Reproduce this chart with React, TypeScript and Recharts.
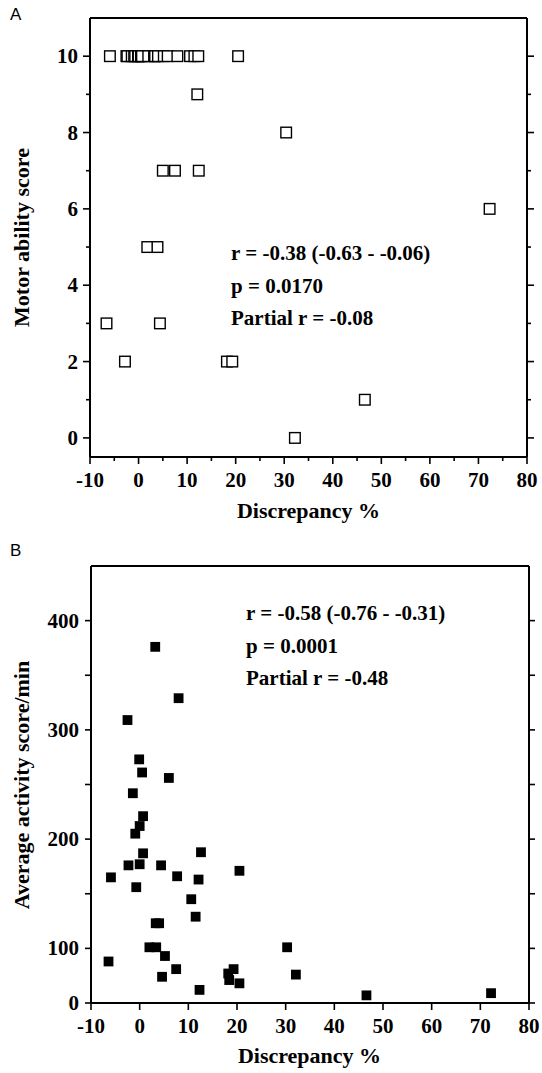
import React from 'react';
import { ScatterChart, Scatter, XAxis, YAxis } from 'recharts';

// Panel A: discrepancy % vs motor ability score
const discrepancyA = [
  -5.9, -2.5, -2.3, -1.4, -0.9, -0.7, -0.1, 0.0, 0.0, 0.5, 0.7, 0.7, 2.0, 3.2, 3.3, 3.4, 4.0, 5.2, 6.0, 8.0, 10.6, 11.5, 12.3, 20.5,
  12.1, 30.4, 5.0, 7.5, 12.4, 72.3, 1.8, 3.9, -6.6, 4.4, -2.8, 18.2, 19.3, 46.6, 32.2,
];
const motorScore = [
  10, 10, 10, 10, 10, 10, 10, 10, 10, 10, 10, 10, 10, 10, 10, 10, 10, 10, 10, 10, 10, 10, 10, 10,
  9, 8, 7, 7, 7, 6, 5, 5, 3, 3, 2, 2, 2, 1, 0,
];

// Panel B: discrepancy % vs average activity score/min (axis bottom labelled "0")
const discrepancyB = [
  3.2, 8.0, -2.5, -0.1, 0.5, 6.0, -1.4, 0.7, 0.0, -0.9, 0.7, 12.6, -2.3, 0.0, 4.4, 20.5, -5.9, 7.7, 12.1, -0.7,
  10.6, 11.5, 3.3, 4.0, 2.0, 3.4, 30.3, 5.2, -6.4, 7.5, 19.3, 18.2, 18.4, 32.1, 4.6, 20.5, 12.3, 46.6, 72.2,
];
const activityScore = [
  376, 329, 309, 273, 261, 256, 242, 221, 212, 205, 187, 188, 176, 177, 176, 171, 165, 166, 163, 156,
  145, 129, 123, 123, 101, 101, 101, 93, 88, 81, 81, 77, 71, 76, 74, 68, 62, 57, 59,
];

const xTicksA = [-10, -5, 0, 5, 10, 15, 20, 25, 30, 35, 40, 45, 50, 55, 60, 65, 70, 75, 80];
const yTicksA = [0, 1, 2, 3, 4, 5, 6, 7, 8, 9, 10];
const xTicksB = [-10, 0, 10, 20, 30, 40, 50, 60, 70, 80];
const yTicksB = [50, 100, 150, 200, 250, 300, 350, 400];
const yLabelsB: Record<number, string> = { 50: '0', 100: '100', 200: '200', 300: '300', 400: '400' };

const statsA = ['r = -0.38 (-0.63 - -0.06)', 'p = 0.0170', 'Partial r = -0.08'];
const statsB = ['r = -0.58 (-0.76 - -0.31)', 'p = 0.0001', 'Partial r = -0.48'];

const dataA = discrepancyA.map((x, i) => ({ x, y: motorScore[i] }));
const dataB = discrepancyB.map((x, i) => ({ x, y: activityScore[i] }));

const SERIF = '"Liberation Serif", "Times New Roman", serif';
const SANS = '"Liberation Sans", Arial, sans-serif';
const FS = 21;

const axisStyle = { stroke: '#000', strokeWidth: 2 };

type Side = 'bottom' | 'top' | 'left' | 'right';

function makeTick(
  side: Side,
  isMajor: (v: number) => boolean,
  label: ((v: number) => string | null) | null,
  majorLen: number,
  minorLen: number
) {
  return (props: any) => {
    const { x, y, payload } = props;
    const v = payload.value as number;
    const major = isMajor(v);
    const len = major ? majorLen : minorLen;
    const txt = label ? label(v) : null;
    let line: React.ReactNode = null;
    let text: React.ReactNode = null;
    const textStyle = { fontFamily: SERIF, fontWeight: 700, fontSize: FS, fill: '#000' };
    if (side === 'bottom') {
      line = <line x1={x} y1={y} x2={x} y2={y + len} stroke="#000" strokeWidth={1.6} />;
      if (txt) text = <text x={x} y={y + 30} textAnchor="middle" style={textStyle}>{txt}</text>;
    } else if (side === 'top') {
      line = <line x1={x} y1={y} x2={x} y2={y - len} stroke="#000" strokeWidth={1.6} />;
    } else if (side === 'left') {
      line = <line x1={x} y1={y} x2={x - len} y2={y} stroke="#000" strokeWidth={1.6} />;
      if (txt) text = <text x={x - 12} y={y + 7} textAnchor="end" style={textStyle}>{txt}</text>;
    } else {
      line = <line x1={x} y1={y} x2={x + len} y2={y} stroke="#000" strokeWidth={1.6} />;
    }
    return (
      <g>
        {line}
        {text}
      </g>
    );
  };
}

const even10 = (v: number) => v % 10 === 0;
const evenInt = (v: number) => v % 2 === 0;
const always = () => true;

const HollowSquare = (p: any) => (
  <rect x={p.cx - 5.3} y={p.cy - 5.3} width={10.6} height={10.6} fill="#fff" stroke="#000" strokeWidth={1.4} />
);
const FilledSquare = (p: any) => (
  <rect x={p.cx - 4.9} y={p.cy - 4.9} width={9.8} height={9.8} fill="#000" stroke="none" />
);

const textBold = { fontFamily: SERIF, fontWeight: 700, fontSize: FS, fill: '#000' } as const;
const titleBold = { fontFamily: SERIF, fontWeight: 700, fontSize: 22, fill: '#000' } as const;

const common = {
  type: 'number' as const,
  interval: 0 as const,
  tickSize: 0,
  tickMargin: 0,
  tickLine: false,
  axisLine: axisStyle,
  allowDataOverflow: true,
};

export default function App() {
  return (
    <div style={{ position: 'absolute', left: 0, top: 0, width: 542, height: 1073, background: '#fff' }}>
      <div style={{ position: 'absolute', left: 0, top: 0 }}>
        <ScatterChart width={542} height={535} margin={{ top: 17, right: 14, bottom: 77, left: 89 }}>
          <XAxis
            {...common}
            xAxisId="b"
            dataKey="x"
            domain={[-10, 80]}
            ticks={xTicksA}
            height={1}
            tick={makeTick('bottom', even10, (v) => (v % 10 === 0 ? String(v) : null), 7, 4)}
          />
          <XAxis
            {...common}
            xAxisId="t"
            orientation="top"
            domain={[-10, 80]}
            ticks={xTicksA}
            height={1}
            tick={makeTick('top', even10, null, 7, 4)}
          />
          <YAxis
            {...common}
            yAxisId="l"
            dataKey="y"
            domain={[-0.5, 11]}
            ticks={yTicksA}
            width={1}
            tick={makeTick('left', evenInt, (v) => (v % 2 === 0 ? String(v) : null), 7, 4)}
          />
          <YAxis
            {...common}
            yAxisId="r"
            orientation="right"
            domain={[-0.5, 11]}
            ticks={yTicksA}
            width={1}
            tick={makeTick('right', evenInt, null, 7, 4)}
          />
          <Scatter data={dataA} xAxisId="b" yAxisId="l" shape={HollowSquare} isAnimationActive={false} />
          <text x={10} y={20} style={{ fontFamily: SANS, fontSize: 17, fill: '#000' }}>A</text>
          {statsA.map((s, i) => (
            <text key={s} x={231} y={260 + i * 32.5} style={textBold}>{s}</text>
          ))}
          <text x={308.5} y={518} textAnchor="middle" style={titleBold}>Discrepancy %</text>
          <text transform="translate(29,237.5) rotate(-90)" textAnchor="middle" style={titleBold}>Motor ability score</text>
        </ScatterChart>
      </div>
      <div style={{ position: 'absolute', left: 0, top: 535 }}>
        <ScatterChart width={542} height={538} margin={{ top: 30, right: 12, bottom: 69, left: 90 }}>
          <XAxis
            {...common}
            xAxisId="b"
            dataKey="x"
            domain={[-10, 80]}
            ticks={xTicksB}
            height={1}
            tick={makeTick('bottom', always, (v) => String(v), 7, 7)}
          />
          <XAxis
            {...common}
            xAxisId="t"
            orientation="top"
            domain={[-10, 80]}
            ticks={xTicksB}
            height={1}
            tick={makeTick('top', always, null, 7, 7)}
          />
          <YAxis
            {...common}
            yAxisId="l"
            dataKey="y"
            domain={[50, 450]}
            ticks={yTicksB}
            width={1}
            tick={makeTick('left', always, (v) => yLabelsB[v] ?? null, 6, 6)}
          />
          <YAxis
            {...common}
            yAxisId="r"
            orientation="right"
            domain={[50, 450]}
            ticks={yTicksB}
            width={1}
            tick={makeTick('right', always, null, 6, 6)}
          />
          <Scatter data={dataB} xAxisId="b" yAxisId="l" shape={FilledSquare} isAnimationActive={false} />
          <text x={10} y={21} style={{ fontFamily: SANS, fontSize: 17, fill: '#000' }}>B</text>
          {statsB.map((s, i) => (
            <text key={s} x={246} y={85 + i * 32.5} style={textBold}>{s}</text>
          ))}
          <text x={309.5} y={528} textAnchor="middle" style={titleBold}>Discrepancy %</text>
          <text transform="translate(29,250) rotate(-90)" textAnchor="middle" style={titleBold}>Average activity score/min</text>
        </ScatterChart>
      </div>
    </div>
  );
}
